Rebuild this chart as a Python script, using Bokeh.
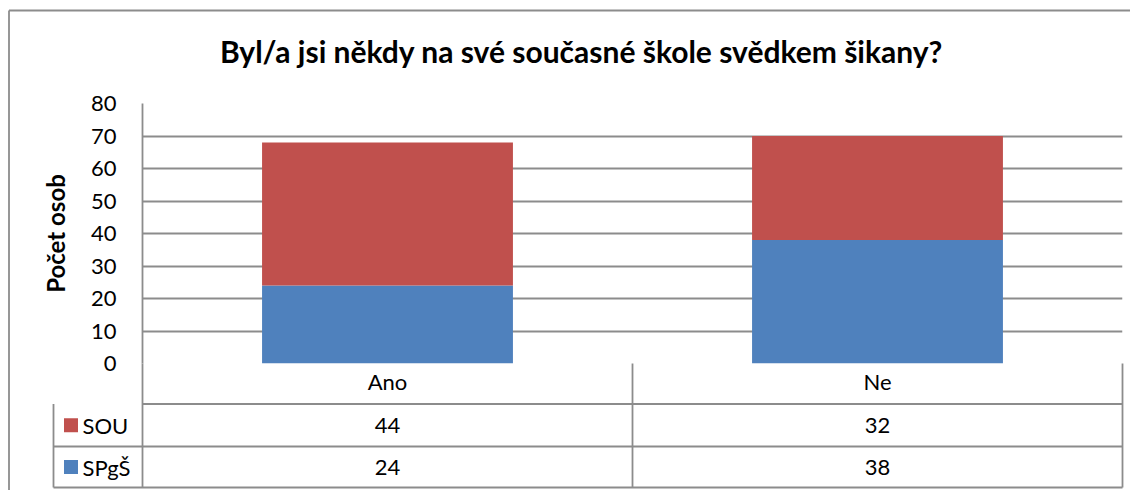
from bokeh.plotting import figure
from bokeh.models import ColumnDataSource, FixedTicker, Range1d, FactorRange
from bokeh.core.properties import value
from bokeh.embed import file_html
from bokeh.resources import INLINE

# ---- data ----
categories = ["Ano", "Ne"]
series_names = ["SOU", "SPgŠ"]
sou = [44, 32]
spgs = [24, 38]
y_ticks = [0, 10, 20, 30, 40, 50, 60, 70, 80]
title_text = "Byl/a jsi někdy na své současné škole svědkem šikany?"
y_label = "Počet osob"

RED = "#C0504D"
BLUE = "#4F81BD"
GRID = "#8C8C8C"
FONT = "Lato"
LW = 1.8

# ---- page geometry (px on canvas) ----
W, H = 1130, 490
F_L, F_R, F_T, F_B = 142, 1122, 103, 363   # frame
LEG_L = 53
ROW_Y = [363, 403.5, 446, 487]
COL_MID = 632

src = ColumnDataSource(dict(cat=categories, SOU=sou, SPGS=spgs))

p = figure(width=W, height=H, x_range=FactorRange(*categories, range_padding=0, factor_padding=0),
           y_range=Range1d(0, 80), output_backend="svg", toolbar_location=None,
           min_border_left=F_L, min_border_right=W - F_R,
           min_border_top=F_T, min_border_bottom=H - F_B)
p.outline_line_color = None
p.background_fill_color = "white"
p.border_fill_color = "white"

p.vbar_stack(["SPGS", "SOU"], x="cat", width=0.512, source=src,
             color=[BLUE, RED], line_color=None)

# grid
p.xgrid.grid_line_color = None
p.ygrid.ticker = FixedTicker(ticks=y_ticks)
p.ygrid.grid_line_color = GRID
p.ygrid.grid_line_width = LW

# y axis
p.yaxis.ticker = FixedTicker(ticks=y_ticks)
p.yaxis.axis_line_color = GRID
p.yaxis.axis_line_width = LW
p.yaxis.major_tick_out = 0
p.yaxis.major_tick_in = 0
p.yaxis.minor_tick_line_color = None
p.yaxis.major_label_standoff = 26
p.yaxis.major_label_text_font = FONT
p.yaxis.major_label_text_font_size = "22px"
p.yaxis.major_label_text_color = "black"
p.yaxis.axis_label = y_label
p.yaxis.axis_label_text_font = FONT
p.yaxis.axis_label_text_font_style = "bold"
p.yaxis.axis_label_text_font_size = "24px"
p.yaxis.axis_label_text_color = "black"
p.yaxis.axis_label_standoff = 18

# x axis (category labels in first table row)
p.xaxis.axis_line_color = None
p.xaxis.major_tick_out = 0
p.xaxis.major_tick_in = 0
p.xaxis.minor_tick_line_color = None
p.xaxis.major_label_standoff = 4
p.xaxis.major_label_text_font = FONT
p.xaxis.major_label_text_font_size = "22px"
p.xaxis.major_label_text_color = "black"

# ---- conversions canvas px -> data ----
def dx(px):
    return (px - F_L) / (F_R - F_L) * len(categories)

def dy(py):
    return (F_B - py) / (F_B - F_T) * 80

# title
ttl = p.text(x=[dx(581)], y=[dy(50)], text=[title_text], text_font=value(FONT),
             text_font_size="30px", text_font_style="bold", text_align="center",
             text_baseline="alphabetic", text_color="black")
ttl.level = "overlay"

# ---- data table below the chart ----
x0s, y0s, x1s, y1s = [], [], [], []
# horizontal lines
x0s += [dx(F_L), dx(LEG_L), dx(LEG_L)]
x1s += [dx(F_R)] * 3
y0s += [dy(ROW_Y[1]), dy(ROW_Y[2]), dy(ROW_Y[3])]
y1s += [dy(ROW_Y[1]), dy(ROW_Y[2]), dy(ROW_Y[3])]
# vertical lines
for xv, ya, yb in [(LEG_L, ROW_Y[1], ROW_Y[3]), (F_L, ROW_Y[0], ROW_Y[3]),
                   (COL_MID, ROW_Y[0], ROW_Y[3]), (F_R, ROW_Y[0], ROW_Y[3])]:
    x0s.append(dx(xv)); x1s.append(dx(xv)); y0s.append(dy(ya)); y1s.append(dy(yb))
# outer chart border (left and top)
x0s += [dx(8.5), dx(8.5)]
x1s += [dx(8.5), dx(W)]
y0s += [dy(10), dy(10)]
y1s += [dy(H), dy(10)]
seg = p.segment(x0=x0s, y0=y0s, x1=x1s, y1=y1s, line_color=GRID, line_width=LW)
seg.level = "overlay"

row_mid = [(ROW_Y[1] + ROW_Y[2]) / 2, (ROW_Y[2] + ROW_Y[3]) / 2]
# legend keys (14px squares)
keys = p.segment(x0=[dx(63.5), dx(63.5)], x1=[dx(77.5), dx(77.5)],
                 y0=[dy(row_mid[0]), dy(row_mid[1])], y1=[dy(row_mid[0]), dy(row_mid[1])],
                 line_color=[RED, BLUE], line_width=14, line_cap="butt")
keys.level = "overlay"
lab = p.text(x=[dx(82), dx(82)], y=[dy(row_mid[0]), dy(row_mid[1])], text=series_names,
             text_font=value(FONT), text_font_size="22px", text_baseline="middle",
             text_align="left", text_color="black")
lab.level = "overlay"

# values
vx, vy, vt = [], [], []
for i, c in enumerate(categories):
    vx += [i + 0.5, i + 0.5]
    vy += [dy(row_mid[0]), dy(row_mid[1])]
    vt += [str(sou[i]), str(spgs[i])]
vals = p.text(x=vx, y=vy, text=vt, text_font=value(FONT), text_font_size="22px",
              text_baseline="middle", text_align="center", text_color="black")
vals.level = "overlay"

open("out.html", "w").write(file_html(p, INLINE))
